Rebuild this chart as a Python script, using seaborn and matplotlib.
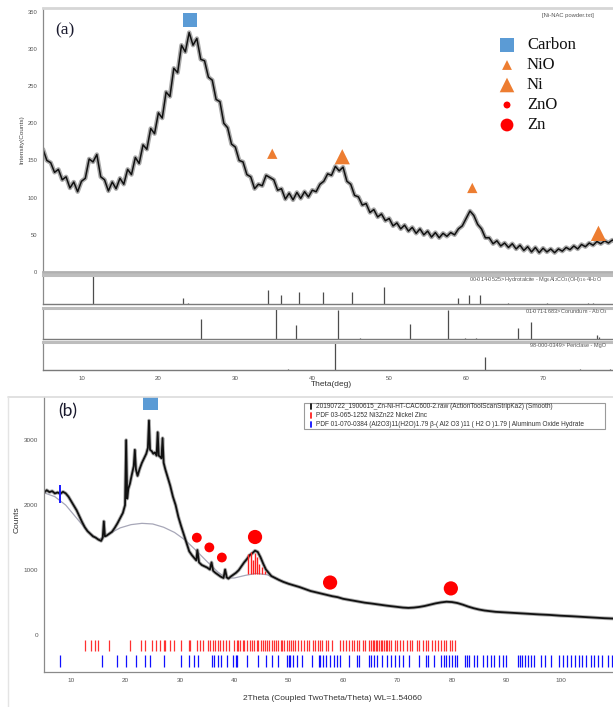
import numpy as np
import pandas as pd
import matplotlib
matplotlib.use("Agg")
import matplotlib.pyplot as plt
import seaborn as sns
from matplotlib.ticker import MultipleLocator, FixedLocator, AutoMinorLocator
from matplotlib.lines import Line2D
from matplotlib.patches import Rectangle

# ---------------- DATA ----------------
# Panel (a): XRD trace, 2theta 5..80 deg every 0.5 deg
theta_a_start, theta_a_step = 5.0, 0.5
counts_a = [165, 150, 147, 134, 138, 124, 128, 113, 121, 108,
            122, 126, 152, 148, 158, 128, 124, 109, 121, 112,
            126, 118, 138, 131, 154, 146, 171, 165, 193, 186,
            214, 207, 242, 236, 274, 268, 305, 296, 322, 305,
            314, 286, 284, 262, 258, 232, 229, 200, 194, 172,
            168, 150, 148, 131, 128, 112, 118, 116, 130, 127,
            124, 110, 112, 98, 106, 97, 107, 99, 108, 101,
            110, 108, 118, 122, 132, 130, 142, 136, 141, 122,
            118, 103, 101, 90, 92, 80, 84, 74, 78, 69,
            72, 62, 66, 58, 63, 55, 60, 52, 58, 50,
            55, 47, 53, 46, 52, 48, 53, 50, 58, 62,
            72, 82, 76, 64, 58, 46, 46, 38, 42, 35,
            39, 33, 38, 31, 36, 29, 34, 27, 33, 26,
            32, 27, 31, 26, 31, 28, 33, 30, 35, 31,
            37, 34, 39, 36, 41, 38, 42, 39, 43, 40, 44]

# Panel (a) phase markers
a_mark_phase = ["Carbon", "NiO", "Ni", "NiO", "Ni"]
a_mark_theta = [24.1, 34.8, 43.9, 60.8, 77.2]
a_mark_int = [339, 159, 155, 113, 52]

# Panel (a) reference stick patterns (2theta, relative intensity)
hydrotalcite_pos = [11.5, 23.2, 23.8, 34.3, 35.9, 38.3, 41.4, 45.2, 49.3, 59.0, 60.4, 61.8, 65.4, 70.5, 75.8, 76.5]
hydrotalcite_int = [1.0, 0.21, 0.05, 0.49, 0.31, 0.40, 0.40, 0.40, 0.60, 0.20, 0.30, 0.30, 0.05, 0.05, 0.05, 0.05]
corundum_pos = [25.6, 35.3, 37.9, 43.4, 46.2, 52.7, 57.6, 59.9, 61.3, 66.7, 68.4, 77.0, 77.3]
corundum_int = [0.63, 1.0, 0.46, 0.95, 0.03, 0.48, 0.92, 0.02, 0.04, 0.34, 0.54, 0.12, 0.05]
periclase_pos = [36.9, 42.9, 62.4, 74.8, 78.7]
periclase_int = [0.03, 1.0, 0.48, 0.03, 0.05]

# Panel (b): XRD trace
theta_b = [5, 5.5, 6, 6.5, 7, 7.5, 8, 8.5, 9, 9.5, 10, 10.5, 11, 11.5, 12, 12.5, 13, 13.5, 14, 14.5,
           15, 15.5, 15.8, 16.0, 16.2, 16.5, 17, 17.5, 18, 18.5, 19, 19.5, 19.9, 20.1, 20.3, 20.5, 20.8,
           21.1, 21.5, 21.7, 21.9, 22.2, 22.6, 23.0, 23.4, 23.8, 24.1, 24.3, 24.5, 24.8, 25.1, 25.4,
           25.7, 25.9, 26.1, 26.4, 26.6, 26.8, 27.0, 27.3, 27.7, 28.2, 28.7, 29.2, 29.7, 30.2, 30.7,
           31.2, 31.7, 32.2, 32.7, 33.0, 33.2, 33.5, 34.0, 34.5, 35.0, 35.5, 35.8, 36.1, 36.5, 37.0,
           37.5, 38.0, 38.3, 38.6, 38.9, 39.3, 39.8, 40.3, 40.8, 41.3, 41.8, 42.3, 42.8, 43.3, 43.8,
           44.3, 44.8, 45.3, 45.8, 46.3, 46.8, 47.5, 48.2, 49, 50, 51, 52, 53, 54, 55, 56, 57, 58, 59,
           60, 61, 62, 63, 64, 65, 66, 67, 68, 69, 70, 71, 72, 73, 74, 75, 76, 77, 78, 79, 80, 81, 82,
           83, 84, 85, 86, 87, 88, 90, 92, 94, 96, 98, 100, 102, 104, 106, 108, 110, 111]
counts_b = [2190, 2230, 2200, 2215, 2180, 2195, 2175, 2205, 2180, 2130, 2060, 1990, 1920, 1830, 1740,
            1660, 1600, 1560, 1520, 1500, 1470, 1450, 1500, 1750, 1520, 1530, 1560, 1590, 1650, 1720,
            1800, 1880, 2000, 3000, 2100, 2250, 2330, 2450, 2600, 2850, 2550, 2450, 2560, 2650, 2720,
            2790, 2880, 3300, 2850, 2830, 2790, 2810, 2760, 3120, 2760, 2740, 2720, 3030, 2650, 2550,
            2440, 2300, 2130, 2000, 1820, 1680, 1550, 1420, 1290, 1230, 1180, 1150, 1310, 1120, 1080,
            1060, 1040, 1010, 1120, 990, 960, 930, 900, 880, 1010, 890, 870, 900, 930, 960, 1000, 1060,
            1120, 1170, 1230, 1260, 1300, 1280, 1200, 1100, 1010, 960, 910, 880, 850, 820, 790, 765,
            740, 710, 680, 660, 640, 620, 600, 585, 560, 545, 530, 515, 500, 490, 478, 465, 455, 445,
            435, 425, 420, 425, 435, 450, 470, 490, 505, 515, 510, 495, 470, 440, 415, 395, 380, 370,
            360, 350, 340, 330, 320, 312, 300, 292, 282, 272, 262, 255, 252]

# Panel (b) background curve
bg_theta = [5, 7, 9, 11, 13, 15, 17, 19, 21, 23, 25, 27, 29, 31, 33, 35, 37, 38.5, 40, 42, 44, 46, 48, 50]
bg_counts = [2190, 2130, 2000, 1800, 1600, 1470, 1560, 1650, 1700, 1720, 1710, 1660, 1580, 1460, 1300,
             1130, 970, 880, 880, 920, 950, 930, 860, 790]

# Panel (b) phase markers
b_mark_phase = ["Carbon", "ZnO", "ZnO", "ZnO", "Zn", "Zn", "Zn"]
b_mark_theta = [24.6, 33.1, 35.4, 37.7, 43.8, 57.6, 79.8]
b_mark_int = [3575, 1500, 1350, 1195, 1510, 810, 720]

# red sticks under the Zn peak
zn_peak_pos = [42.5, 43.0, 43.4, 43.8, 44.2, 44.6, 45.1, 45.6]
zn_peak_top = [1250, 1280, 1150, 1270, 1200, 1100, 1050, 990]
zn_peak_base = 940
blue_stick_pos = [7.9]
blue_stick_lo, blue_stick_hi = [2030], [2310]

# Reference pattern positions below the trace (b)
ni3zn22_pos = [12.6, 13.6, 14.4, 15.0, 16.9, 20.8, 22.8, 23.6, 24.8, 25.5, 26.4, 27.0, 27.3, 28.2, 28.9,
               30.1, 31.6, 31.9, 33.2, 33.6, 34.2, 35.2, 35.6, 36.1, 36.5, 36.9, 37.3, 37.9, 38.4, 39.0,
               40.0, 40.4, 40.7, 41.1, 41.5, 41.8, 42.3, 42.9, 43.3, 43.6, 44.1, 44.4, 44.9, 45.3, 45.6,
               46.0, 46.4, 46.9, 47.2, 47.6, 48.1, 48.5, 48.8, 49.2, 49.7, 50.1, 50.5, 50.8, 51.2, 51.7,
               52.3, 52.8, 53.3, 53.8, 54.4, 54.9, 55.4, 55.7, 56.2, 56.8, 57.3, 57.9, 59.45, 59.9, 60.5,
               61.1, 61.6, 62.0, 62.5, 63.0, 63.6, 64.1, 64.8, 65.1, 65.4, 65.7, 66.0, 66.3, 66.6, 66.9,
               67.2, 67.5, 67.8, 68.1, 68.4, 68.8, 69.5, 69.9, 70.4, 70.95, 71.7, 72.2, 72.7, 73.5, 74.0,
               74.7, 75.3, 75.6, 76.3, 76.8, 77.4, 78.0, 78.5, 79.0, 79.6, 80.1, 80.6]
aloh_pos = [7.9, 15.7, 18.5, 20.1, 21.9, 23.65, 24.4, 27.1, 30.1, 31.6, 32.5, 33.4, 35.9, 36.2, 36.9,
            37.5, 38.6, 39.8, 40.3, 40.5, 42.3, 44.35, 45.8, 46.9, 48.1, 49.7, 50.0, 50.25, 50.8, 51.5,
            52.4, 54.2, 55.5, 55.7, 56.3, 56.9, 57.65, 58.4, 58.9, 59.45, 61.0, 62.5, 62.9, 64.8, 65.1,
            65.7, 66.3, 67.2, 68.1, 68.8, 69.5, 70.2, 70.95, 72.1, 74.0, 75.3, 75.6, 76.7, 78.0, 78.5,
            78.9, 79.4, 80.1, 80.6, 81.0, 82.4, 82.8, 83.2, 84.0, 84.7, 85.7, 86.4, 87.1, 87.8, 88.6,
            89.3, 90.0, 92.1, 92.5, 92.9, 93.4, 94.0, 94.5, 95.0, 96.3, 97.2, 98.3, 99.7, 100.4, 101.1,
            101.9, 102.6, 103.3, 104.0, 104.7, 105.5, 106.2, 106.9, 107.6, 108.7, 109.4]

legend_a_labels = ["Carbon", "NiO", "Ni", "ZnO", "Zn"]
legend_b_labels = ["20190722_1900615_Zn-Ni-HT-CAC600-2.raw (ActionToolScanStripKa2) (Smooth)",
                   "PDF 03-065-1252 Ni3Zn22 Nickel Zinc",
                   "PDF 01-070-0384 (Al2O3)11(H2O)1.79 \u03b2-( Al2 O3 )11 ( H2 O )1.79 | Aluminum Oxide Hydrate"]

# ---------------- STYLE ----------------
sns.set_theme(style="white")
plt.rcParams["font.family"] = ["Liberation Sans", "DejaVu Sans"]

phase_style = {
    "Carbon": dict(marker="s", color="#5B9BD5"),
    "NiO": dict(marker="^", color="#ED7D31"),
    "Ni": dict(marker="^", color="#ED7D31"),
    "ZnO": dict(marker="o", color="#FF0000"),
    "Zn": dict(marker="o", color="#FF0000"),
}
size_a = {"Carbon": 110, "NiO": 55, "Ni": 120, "ZnO": 30, "Zn": 90}
size_b = {"Carbon": 110, "ZnO": 50, "Zn": 105}

W, H = 613, 707
fig = plt.figure(figsize=(W / 100, H / 100), dpi=100)


def box(l, t, r, b):
    return [l / W, 1 - b / H, (r - l) / W, (b - t) / H]


def style_small_ticks(ax, size=4.4):
    ax.tick_params(axis="both", labelsize=size, colors="#555555", length=2.5, width=0.6, pad=1.5,
                   direction="out")
    ax.tick_params(which="minor", length=1.5, width=0.5, colors="#777777")


# ---------------- PANEL (a) main ----------------
theta_a = theta_a_start + theta_a_step * np.arange(len(counts_a))
df_a = pd.DataFrame({"theta": theta_a, "counts": counts_a})
ax_a = fig.add_axes(box(43, 8, 620, 272))
# soft gray halo + dark core to mimic the dense noisy scan
sns.lineplot(data=df_a, x="theta", y="counts", ax=ax_a, color="#8c8c8c", lw=3.2, alpha=0.75,
             estimator=None, sort=False)
sns.lineplot(data=df_a, x="theta", y="counts", ax=ax_a, color="#111111", lw=1.1,
             estimator=None, sort=False)
for ph in ["Carbon", "NiO", "Ni"]:
    idx = [i for i, p in enumerate(a_mark_phase) if p == ph]
    sns.scatterplot(x=[a_mark_theta[i] for i in idx], y=[a_mark_int[i] for i in idx], ax=ax_a,
                    marker=phase_style[ph]["marker"], color=phase_style[ph]["color"],
                    s=size_a[ph], edgecolor="none", zorder=5, legend=False)
ax_a.set_xlim(5, 80)
ax_a.set_ylim(0, 355)
ax_a.set_xlabel("")
ax_a.set_ylabel("")
ax_a.set_yticks(range(0, 351, 50))
ax_a.set_xticks([])
style_small_ticks(ax_a, 4.2)
ax_a.spines["right"].set_visible(False)
ax_a.spines["top"].set_color("#d6d6d6")
ax_a.spines["top"].set_linewidth(2)
ax_a.spines["left"].set_color("#8a8a8a")
ax_a.spines["left"].set_linewidth(0.9)
ax_a.spines["bottom"].set_color("#b0b0b0")
ax_a.spines["bottom"].set_linewidth(2.0)

# ---------------- PANEL (a) reference sticks ----------------
sub_specs = [((275, 304), hydrotalcite_pos, hydrotalcite_int),
             ((308, 339), corundum_pos, corundum_int),
             ((342, 370), periclase_pos, periclase_int)]
sub_axes = []
for (top, bot), pos, inten in sub_specs:
    ax = fig.add_axes(box(43, top, 620, bot))
    ax.vlines(pos, 0, inten, color="#4d4d4d", lw=0.9)
    ax.set_xlim(5, 80)
    ax.set_ylim(0, 1.0)
    ax.set_yticks([])
    ax.spines["right"].set_visible(False)
    ax.spines["top"].set_color("#bdbdbd")
    ax.spines["top"].set_linewidth(2.2)
    ax.spines["left"].set_color("#8a8a8a")
    ax.spines["left"].set_linewidth(0.9)
    ax.spines["bottom"].set_color("#7a7a7a")
    ax.spines["bottom"].set_linewidth(1.0)
    ax.set_xticks([])
    sub_axes.append(ax)
ax_last = sub_axes[-1]
ax_last.set_xticks(range(10, 80, 10))
ax_last.xaxis.set_minor_locator(MultipleLocator(2))
style_small_ticks(ax_last, 4.4)

# ---------------- PANEL (b) ----------------
ax_b = fig.add_axes(box(44, 397, 620, 672))
sns.lineplot(x=bg_theta, y=bg_counts, ax=ax_b, color="#a7a7b8", lw=0.9, estimator=None, sort=False)
ax_b.vlines(zn_peak_pos, zn_peak_base, zn_peak_top, color="#FF2020", lw=1.0, zorder=3)
ax_b.vlines(blue_stick_pos, blue_stick_lo, blue_stick_hi, color="#1a1aff", lw=1.4, zorder=4)
sns.lineplot(x=theta_b, y=counts_b, ax=ax_b, color="#7a7a7a", lw=2.6, alpha=0.6, estimator=None, sort=False)
sns.lineplot(x=theta_b, y=counts_b, ax=ax_b, color="#111111", lw=1.3, estimator=None, sort=False)
ax_b.vlines(ni3zn22_pos, -246, -77, color="#ff3030", lw=0.9)
ax_b.vlines(aloh_pos, -492, -308, color="#1010ff", lw=0.9)
for ph in ["Carbon", "ZnO", "Zn"]:
    idx = [i for i, p in enumerate(b_mark_phase) if p == ph]
    sns.scatterplot(x=[b_mark_theta[i] for i in idx], y=[b_mark_int[i] for i in idx], ax=ax_b,
                    marker=phase_style[ph]["marker"], color=phase_style[ph]["color"],
                    s=size_b[ph], edgecolor="none", zorder=5, legend=False)
ax_b.set_xlim(5, 110.9)
ax_b.set_ylim(-565, 3662)
ax_b.set_xlabel("")
ax_b.set_ylabel("")
ax_b.set_yticks([0, 1000, 2000, 3000])
ax_b.yaxis.set_minor_locator(FixedLocator(list(range(0, 3700, 100))))
ax_b.set_xticks(range(10, 110, 10))
ax_b.xaxis.set_minor_locator(AutoMinorLocator(7))
style_small_ticks(ax_b, 4.6)
ax_b.spines["top"].set_visible(False)
ax_b.spines["right"].set_visible(False)
ax_b.spines["left"].set_color("#8a8a8a")
ax_b.spines["left"].set_linewidth(0.9)
ax_b.spines["bottom"].set_color("#8a8a8a")
ax_b.spines["bottom"].set_linewidth(0.9)

# ---------------- OVERLAY (text & decorations in pixel space) ----------------
ov = fig.add_axes([0, 0, 1, 1], zorder=20)
ov.set_xlim(0, W)
ov.set_ylim(H, 0)
ov.axis("off")
ov.patch.set_alpha(0)

ov.add_line(Line2D([8, 613], [397, 397], color="#dcdcdc", lw=1.2))
ov.add_line(Line2D([8, 8], [397, 707], color="#e4e4e4", lw=1.0))

serif = ["Liberation Serif", "DejaVu Serif"]
ov.text(55, 30, "(a)", fontsize=12.5, family=serif, color="#1a1a2e", ha="left", va="center")
ov.text(68, 411, "(b)", fontsize=12.5, family=["Lato", "DejaVu Sans"], color="#1a1a2e",
        ha="center", va="center")
ov.text(542, 15, "[Ni-NAC powder.txt]", fontsize=4.2, color="#555555", ha="left", va="center")
ov.text(22, 140, "Intensity(Counts)", fontsize=4.6, color="#444444", rotation=90, ha="center", va="center")
ov.text(331, 385, "Theta(deg)", fontsize=6, color="#333333", ha="center", va="center")
ov.text(17, 520, "Counts", fontsize=6, color="#333333", rotation=90, ha="center", va="center")
ov.text(332, 699, "2Theta (Coupled TwoTheta/Theta) WL=1.54060", fontsize=6, color="#333333",
        ha="center", va="center")

ov.text(469, 279, r"00-014-0525> Hydrotalcite - Mg$_6$Al$_2$CO$_3$(OH)$_{16}$·4H$_2$O", fontsize=4.0,
        color="#555555", ha="left", va="center")
ov.text(525, 312, r"01-071-1683> Corundum - Al$_2$O$_3$", fontsize=4.0, color="#555555",
        ha="left", va="center")
ov.text(530, 346, "98-000-0349> Periclase - MgO", fontsize=4.0, color="#555555", ha="left", va="center")

leg_y = [45, 65, 85, 105, 125]
leg_sizes = {"Carbon": 100, "NiO": 50, "Ni": 110, "ZnO": 25, "Zn": 85}
for lab, y in zip(legend_a_labels, leg_y):
    st = phase_style[lab]
    ov.scatter([507], [y], marker=st["marker"], color=st["color"], s=leg_sizes[lab], edgecolor="none")
    ov.text(527, y, lab, fontsize=12, family=serif, color="#111111", ha="left", va="center")

ov.add_patch(Rectangle((304, 402.5), 301, 26, facecolor="white", edgecolor="#9a9a9a", lw=0.8))
for lab, y, c in zip(legend_b_labels, [406.5, 415.5, 424.2], ["#111111", "#ff2020", "#1010ff"]):
    ov.add_line(Line2D([310.5, 310.5], [y - 2.5, y + 2.5], color=c, lw=1.3))
    ov.text(316, y, lab, fontsize=4.7, color="#333333", ha="left", va="center")

fig.savefig("out.png", dpi=100)
